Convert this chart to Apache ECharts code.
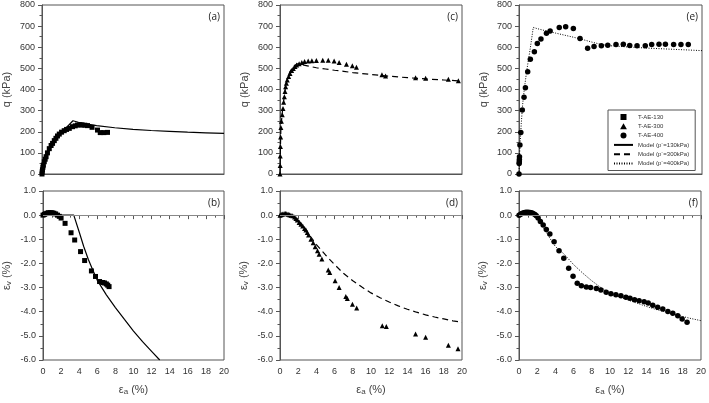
<!DOCTYPE html>
<html><head><meta charset="utf-8">
<script src="https://cdn.jsdelivr.net/npm/echarts@6/dist/echarts.min.js"></script>
<style>html,body{margin:0;padding:0;background:#fff}#c{width:709px;height:403px}</style>
</head><body><div id="c"></div>
<script>
const panelLabels = ['(a)', '(b)', '(c)', '(d)', '(e)', '(f)'];
const testNames = ['T-AE-130', 'T-AE-300', 'T-AE-400'];
const modelNames = ['Model (p\u00b4=130kPa)', 'Model (p\u00b4=300kPa)', 'Model (p\u00b4=400kPa)'];

// (a) q vs axial strain, T-AE-130
const aX = [0,0.02,0.05,0.1,0.15,0.25,0.35,0.45,0.6,0.8,1.0,1.16,1.35,1.53,1.7,1.9,2.15,2.44,2.7,3.0,3.35,3.65,3.9,4.15,4.4,4.7,5.0,5.5,6.1,6.4,6.8,7.2];
const aQ = [0,10,20,32,42,58,70,82,100,120,135,145,158,169,180,189,198,205,211,216,224,228,232,233,232,231,229,221,208,196,196,197];
const aMX = [0,0.3,0.8,1.5,2.2,2.8,3.4,4,5,6,8,10,12,14,16,18,20];
const aMQ = [0,60,125,175,205,225,252,245,236,229,219,211,206,202,198,195,192];

// (b) volumetric strain, T-AE-130
const bX = [0,0.15,0.3,0.45,0.6,0.8,1.0,1.2,1.4,1.6,1.8,2.0,2.44,3.1,3.5,4.15,4.6,5.35,5.8,6.25,6.6,6.8,7.0,7.15,7.3];
const bE = [0,0.03,0.06,0.08,0.1,0.1,0.1,0.08,0.05,0,-0.05,-0.12,-0.34,-0.73,-1.03,-1.51,-1.88,-2.31,-2.54,-2.75,-2.79,-2.81,-2.85,-2.9,-2.96];
const bMX = [0,3.4,4,4.5,5,5.5,6,7,8,9,10,11,12,12.9];
const bME = [0,0,-0.7,-1.3,-1.83,-2.27,-2.7,-3.3,-3.83,-4.32,-4.8,-5.24,-5.64,-6.0];

// (c) q, T-AE-300
const cX = [0,0.02,0.03,0.05,0.07,0.1,0.15,0.25,0.33,0.4,0.48,0.55,0.62,0.7,0.8,0.95,1.1,1.28,1.46,1.65,1.83,2.1,2.4,2.7,3.1,3.5,4.0,4.7,5.3,5.95,6.5,7.3,7.95,8.4,11.2,11.6,14.9,16.0,18.5,19.6];
const cQ = [0,40,85,130,175,220,250,280,310,340,366,390,413,430,445,462,476,490,500,509,516,522,528,532,535,536,537,539,539,535,528,520,513,505,470,464,456,453,448,442];
const cMX = [0,0.05,0.1,0.25,0.4,0.6,0.8,1.1,1.5,1.9,3,4,5,6,7,8,10,12,14,16,18,20];
const cMQ = [0,130,220,290,345,410,450,485,510,522,512,503,497,491,486,480,471,463,456,450,445,440];

// (d) volumetric strain, T-AE-300
const dX = [0,0.1,0.2,0.3,0.45,0.6,0.75,0.9,1.05,1.2,1.4,1.6,1.75,1.9,2.1,2.3,2.5,2.7,2.85,3.0,3.14,3.4,3.65,3.87,4.12,4.3,4.6,5.3,5.47,6.06,6.5,7.23,7.4,7.96,8.43,11.24,11.68,14.9,16,18.5,19.56];
const dE = [0,0.02,0.04,0.05,0.07,0.07,0.06,0.04,0.02,0,-0.03,-0.08,-0.14,-0.2,-0.3,-0.38,-0.45,-0.55,-0.62,-0.72,-0.82,-1.0,-1.14,-1.31,-1.47,-1.62,-1.82,-2.27,-2.38,-2.72,-3.0,-3.37,-3.45,-3.69,-3.85,-4.58,-4.61,-4.92,-5.06,-5.39,-5.53];
const dMX = [0,0.5,1,1.5,2,2.5,3,3.5,4,5,6,7,8,9,10,11,12,13,14,15,16,17,18,19,20];
const dME = [0,0.04,0.03,-0.05,-0.2,-0.43,-0.7,-0.96,-1.22,-1.65,-2.05,-2.42,-2.72,-2.98,-3.22,-3.42,-3.6,-3.76,-3.9,-4.02,-4.13,-4.22,-4.3,-4.38,-4.44];

// (e) q, T-AE-400
const eX = [0,0.02,0.03,0.04,0.05,0.1,0.2,0.36,0.55,0.7,0.95,1.24,1.68,2.0,2.4,3.0,3.4,4.4,5.1,5.94,6.67,7.5,8.2,9.0,9.7,10.6,11.4,12.1,12.9,13.8,14.5,15.3,16.0,16.9,17.7,18.5];
const eQ = [0,50,58,69,82,137,196,303,363,408,484,543,579,618,639,666,677,694,697,689,642,595,603,607,610,613,614,608,607,607,613,614,614,613,613,613];
const eMX = [0,0.1,0.25,0.4,0.6,0.85,1.05,1.25,1.56,2,3,4,5,6,7,8,9,10,12,14,16,18,20];
const eMQ = [0,130,240,330,410,490,545,600,694,688,677,667,657,647,636,624,613,607,601,596,592,588,584];

// (f) volumetric strain, T-AE-400
const fX = [0,0.15,0.3,0.5,0.65,0.8,1.0,1.2,1.38,1.55,1.75,1.9,2.1,2.35,2.66,3.0,3.39,3.86,4.4,4.92,5.46,5.94,6.4,6.85,7.4,7.87,8.5,9.0,9.58,10.1,10.65,11.2,11.75,12.2,12.7,13.2,13.75,14.2,14.7,15.24,15.8,16.36,16.9,17.45,17.93,18.47];
const fE = [0,0.03,0.07,0.1,0.11,0.12,0.12,0.11,0.1,0.07,0.03,-0.03,-0.12,-0.26,-0.41,-0.59,-0.78,-1.1,-1.47,-1.79,-2.2,-2.53,-2.82,-2.92,-2.98,-3.0,-3.04,-3.1,-3.19,-3.26,-3.3,-3.34,-3.4,-3.44,-3.5,-3.55,-3.59,-3.64,-3.73,-3.81,-3.89,-3.99,-4.06,-4.17,-4.3,-4.44];
const fMX = [0,0.5,1,1.5,2,2.5,3,3.5,4,5,6,7,8,9,10,11,12,13,14,15,16,17,18,19,20];
const fME = [0,0.07,0.1,0.05,-0.12,-0.4,-0.72,-1.02,-1.3,-1.63,-2.05,-2.4,-2.72,-3.0,-3.22,-3.38,-3.52,-3.65,-3.78,-3.9,-4.0,-4.1,-4.2,-4.29,-4.37];

const zip = (xs, ys) => xs.map((x, i) => [x, ys[i]]);
const AX = '#555';
const FONT = 'Liberation Sans, Arial, sans-serif';

const gridPos = [
  {left: 41, top: 5, width: 183, height: 169},
  {left: 41, top: 191, width: 183, height: 169},
  {left: 280, top: 5, width: 182, height: 169},
  {left: 280, top: 191, width: 182, height: 169},
  {left: 519, top: 5, width: 183, height: 169},
  {left: 519, top: 191, width: 183, height: 169}
];
const grids = gridPos.map(g => Object.assign({show: true, borderColor: AX, borderWidth: 1, backgroundColor: 'transparent'}, g));

const xAxes = gridPos.map((g, i) => {
  const bottom = i % 2 === 1;
  return {
    type: 'value', gridIndex: i, min: 0, max: 20, interval: 2,
    axisLine: {show: true, lineStyle: {color: AX, width: 1}},
    axisTick: {show: bottom, length: 4, lineStyle: {color: AX}},
    minorTick: {show: bottom, splitNumber: 2, length: 2.5, lineStyle: {color: AX}},
    splitLine: {show: false},
    axisLabel: {show: bottom, fontSize: 9, color: '#333', fontFamily: FONT, margin: 7},
    name: bottom ? '{n|\u03b5}{s|a}{n| (%)}' : '',
    nameLocation: 'middle', nameGap: 23,
    nameTextStyle: {rich: {
      n: {fontSize: 11, color: '#444', fontFamily: FONT},
      s: {fontSize: 8, color: '#444', fontFamily: FONT, padding: [5, 0, 0, 0]}
    }}
  };
});

const yAxes = gridPos.map((g, i) => {
  const bottom = i % 2 === 1;
  return {
    type: 'value', gridIndex: i,
    min: bottom ? -6 : 0, max: bottom ? 1 : 800, interval: bottom ? 1 : 100,
    axisLine: {show: true, lineStyle: {color: AX, width: 1}},
    axisTick: {show: true, length: 4, lineStyle: {color: AX}},
    minorTick: {show: true, splitNumber: 2, length: 2.5, lineStyle: {color: AX}},
    splitLine: {show: false},
    axisLabel: {fontSize: 9, color: '#333', fontFamily: FONT, margin: 7,
      formatter: v => bottom ? v.toFixed(1) : String(v)},
    name: bottom ? '{n|\u03b5}{s|v}{n| (%)}' : '{n|q (kPa)}',
    nameLocation: 'middle', nameGap: 30, nameRotate: 90,
    nameTextStyle: {rich: {
      n: {fontSize: 11, color: '#444', fontFamily: FONT},
      s: {fontSize: 8, color: '#444', fontFamily: FONT, padding: [5, 0, 0, 0]}
    }}
  };
});

const titles = panelLabels.map((t, i) => {
  const g = gridPos[i];
  return {
    text: t, right: 709 - (g.left + g.width) + 4, top: g.top + 7, padding: 0,
    textStyle: {fontSize: 10, fontWeight: 'normal', color: '#222', fontFamily: 'Open Sans, Liberation Sans, sans-serif'}
  };
});

const scat = (name, data, idx, symbol, size) => ({
  type: 'scatter', name, data, xAxisIndex: idx, yAxisIndex: idx,
  symbol, symbolSize: size, itemStyle: {color: '#000', opacity: 1}, silent: true
});
const zeroLine = {silent: true, symbol: 'none', label: {show: false},
  lineStyle: {color: '#888', width: 1, type: 'solid'}, data: [{yAxis: 0}]};
const mline = (name, data, idx, type, width, withZero) => {
  const s = {
    type: 'line', name, data, xAxisIndex: idx, yAxisIndex: idx,
    symbol: 'none', showSymbol: false, smooth: false, silent: true,
    lineStyle: {color: '#000', width, type}, itemStyle: {color: '#000'}
  };
  if (withZero) s.markLine = zeroLine;
  return s;
};

const series = [
  scat(testNames[0], zip(aX, aQ), 0, 'rect', 5),
  mline(modelNames[0], zip(aMX, aMQ), 0, 'solid', 1.2, false),
  scat(testNames[0], zip(bX, bE), 1, 'rect', 5),
  mline(modelNames[0], zip(bMX, bME), 1, 'solid', 1.2, true),
  scat(testNames[1], zip(cX, cQ), 2, 'triangle', 5),
  mline(modelNames[1], zip(cMX, cMQ), 2, [6, 4], 1.2, false),
  scat(testNames[1], zip(dX, dE), 3, 'triangle', 5),
  mline(modelNames[1], zip(dMX, dME), 3, [6, 4], 1.2, true),
  scat(testNames[2], zip(eX, eQ), 4, 'circle', 5.5),
  mline(modelNames[2], zip(eMX, eMQ), 4, [1, 1.5], 1, false),
  scat(testNames[2], zip(fX, fE), 5, 'circle', 5.5),
  mline(modelNames[2], zip(fMX, fME), 5, [1, 1.5], 1, true)
];

const legendData = [
  {name: testNames[0], icon: 'path://M0,0L6,0L6,6L0,6Z', itemStyle: {color: '#000', opacity: 1}},
  {name: testNames[1], icon: 'path://M3,0L6.4,6L-0.4,6Z', itemStyle: {color: '#000', opacity: 1}},
  {name: testNames[2], icon: 'path://M3,0A3,3,0,1,1,2.99,0Z', itemStyle: {color: '#000', opacity: 1}},
  {name: modelNames[0], itemStyle: {opacity: 0}},
  {name: modelNames[1], itemStyle: {opacity: 0}},
  {name: modelNames[2], itemStyle: {opacity: 0}}
];

const chart = echarts.init(document.getElementById('c'), null, {renderer: 'canvas'});
chart.setOption({
  animation: false,
  backgroundColor: '#fff',
  title: titles,
  grid: grids,
  xAxis: xAxes,
  yAxis: yAxes,
  legend: {
    data: legendData,
    orient: 'vertical', left: 608, top: 110,
    itemWidth: 19, itemHeight: 6, itemGap: 3.3,
    symbolKeepAspect: true,
    padding: [4, 6, 4, 5], borderColor: AX, borderWidth: 1, backgroundColor: '#fff',
    selectedMode: false,
    textStyle: {fontSize: 6, color: '#333', fontFamily: FONT}
  },
  series
});
</script></body></html>
